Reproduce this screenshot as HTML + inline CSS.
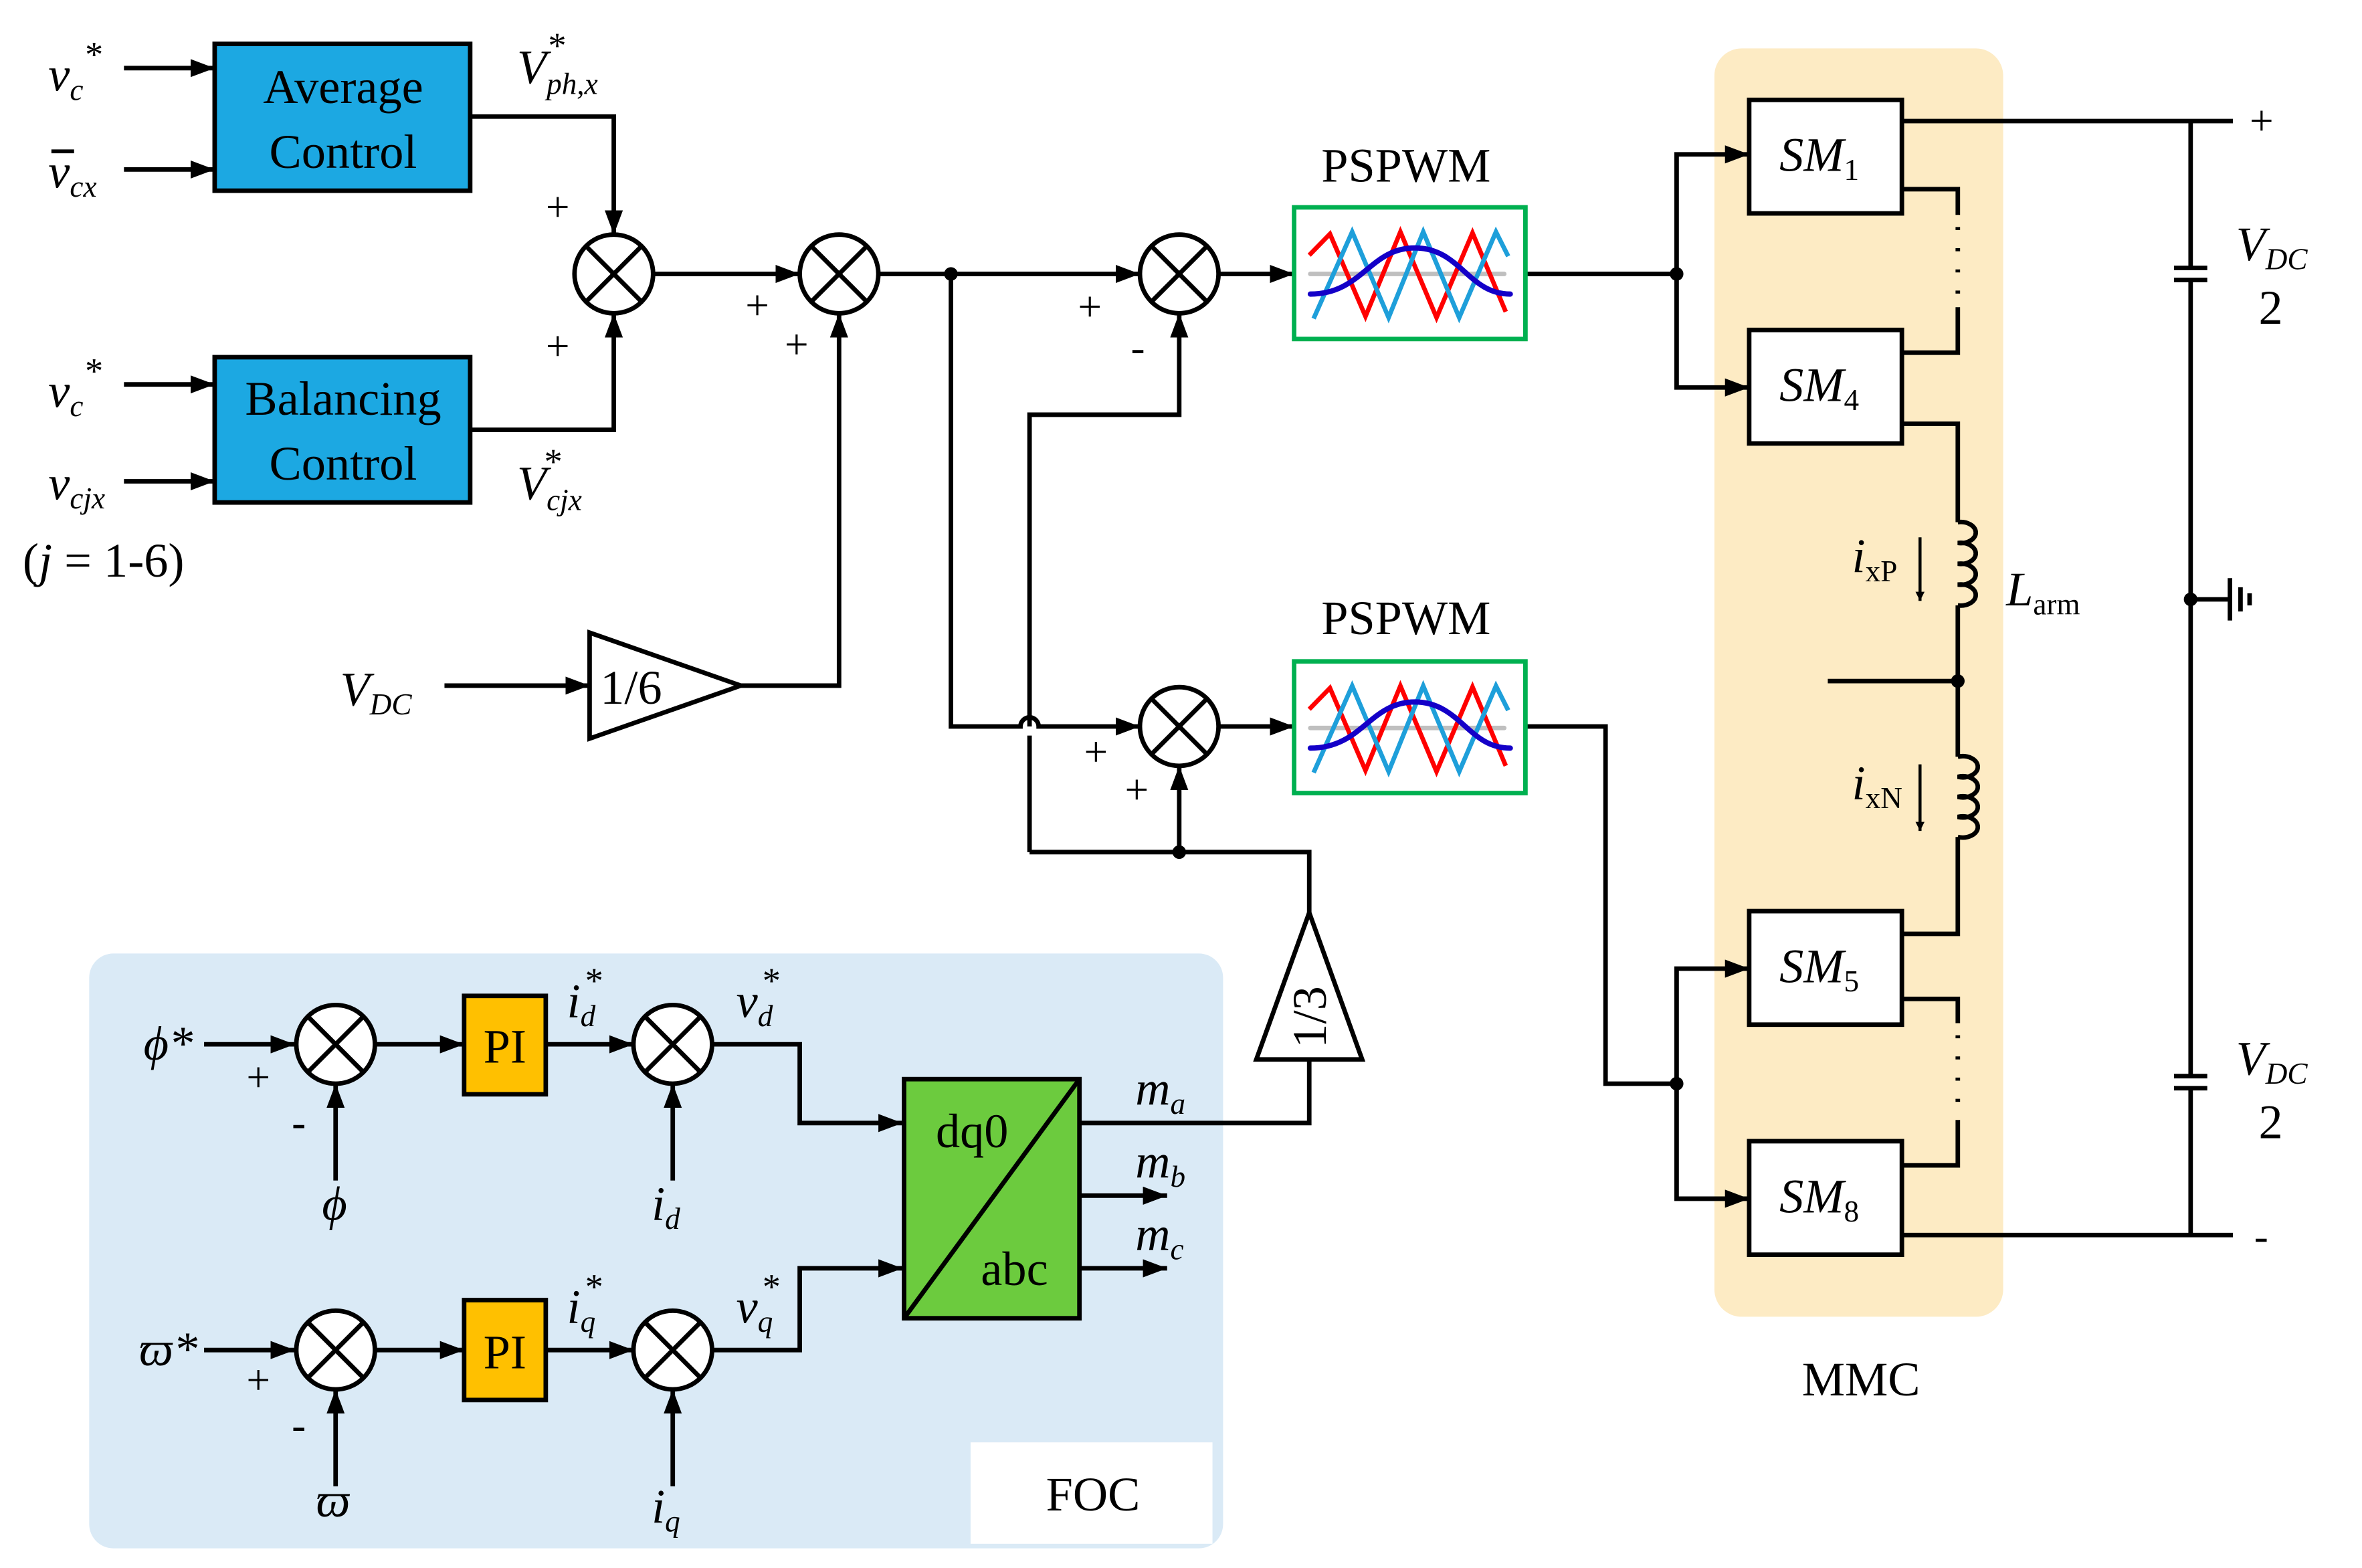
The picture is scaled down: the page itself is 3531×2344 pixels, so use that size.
<!DOCTYPE html>
<html><head><meta charset="utf-8"><style>
html,body{margin:0;padding:0;background:#fff}
svg{display:block}
text{font-family:"Liberation Serif",serif;fill:#000}
.i{font-style:italic}
</style></head><body>
<svg width="3531" height="2344" viewBox="0 0 1560 1036" preserveAspectRatio="none" xmlns="http://www.w3.org/2000/svg">
<defs>
<marker id="a" viewBox="0 0 10 10" refX="10" refY="5" markerWidth="6" markerHeight="6" markerUnits="userSpaceOnUse" orient="auto"><path d="M0,0 L10,5 L0,10 z" fill="#000"/></marker>
<marker id="A" viewBox="0 0 10 10" refX="10" refY="5" markerWidth="16" markerHeight="12" markerUnits="userSpaceOnUse" orient="auto" preserveAspectRatio="none"><path d="M0,0 L10,5 L0,10 z" fill="#000"/></marker>
<g id="pw">
<rect x="0" y="0" width="153" height="87" fill="#fff" stroke="#00B050" stroke-width="3"/>
<line x1="10.7" y1="44" x2="139" y2="44" stroke="#bfbfbf" stroke-width="3" stroke-linecap="round"/>
<polyline points="10,31.6 23.7,17.6 47.2,72 70.3,16.2 94.2,72.8 118,16.9 140,69" fill="none" stroke="#ff0000" stroke-width="3"/>
<polyline points="12.9,73.5 38.4,16.2 62.5,72.8 85.4,16.2 109.2,72.8 133.5,16.2 141.6,32.3" fill="none" stroke="#1e9fda" stroke-width="3"/>
<path d="M10.7,57.3 C45,57.3 50,26.8 79.8,26.8 C110,26.8 115,57.3 143,57.3" fill="none" stroke="#1400c8" stroke-width="3.5" stroke-linecap="round"/>
</g>
<g id="cx"><circle r="26" fill="#fff" stroke="#000" stroke-width="3"/><line x1="-18.4" y1="-18.4" x2="18.4" y2="18.4" stroke="#000" stroke-width="3"/><line x1="-18.4" y1="18.4" x2="18.4" y2="-18.4" stroke="#000" stroke-width="3"/></g>
</defs>
<g transform="translate(-3,0) scale(0.9985,1)">
<g stroke="#000" stroke-width="3" fill="none">
<rect x="1137" y="32" width="191" height="838" rx="18" fill="#FDEBC4" stroke="none"/>
<rect x="62" y="630" width="750" height="393" rx="16" fill="#DAEAF6" stroke="none"/>
<rect x="645" y="953" width="160" height="67" fill="#fff" stroke="none"/>
</g>
<g stroke="#000" stroke-width="3" fill="none" marker-end="url(#A)">
<line x1="85" y1="45" x2="145" y2="45"/>
<line x1="85" y1="112" x2="145" y2="112"/>
<line x1="85" y1="254" x2="145" y2="254"/>
<line x1="85" y1="318" x2="145" y2="318"/>
<polyline points="314,77 409,77 409,155"/>
<polyline points="314,284 409,284 409,207"/>
<line x1="435" y1="181" x2="532" y2="181"/>
<polyline points="493,453 558,453 558,207"/>
<line x1="297" y1="453" x2="393" y2="453"/>
<line x1="584" y1="181" x2="757" y2="181"/>
<polyline points="684,480 684,274 783,274 783,207"/>
<line x1="783" y1="563" x2="783" y2="506"/>
<path d="M632,181 L632,480 L678,480 A6,6 0 0 1 690,480 L757,480"/>
<line x1="809" y1="181" x2="859" y2="181"/>
<line x1="809" y1="480" x2="859" y2="480"/>
<polyline points="1112,181 1112,102 1160,102"/>
<polyline points="1112,181 1112,256 1160,256"/>
<polyline points="1112,716 1112,640 1160,640"/>
<polyline points="1112,716 1112,792 1160,792"/>
<line x1="138" y1="690" x2="198" y2="690"/>
<line x1="138" y1="892" x2="198" y2="892"/>
<line x1="225" y1="780" x2="225" y2="716"/>
<line x1="225" y1="982" x2="225" y2="918"/>
<line x1="251" y1="690" x2="310" y2="690"/>
<line x1="251" y1="892" x2="310" y2="892"/>
<line x1="364" y1="690" x2="422" y2="690"/>
<line x1="364" y1="892" x2="422" y2="892"/>
<line x1="448" y1="780" x2="448" y2="716"/>
<line x1="448" y1="982" x2="448" y2="918"/>
<polyline points="474,690 532,690 532,742 600,742"/>
<polyline points="474,892 532,892 532,838 600,838"/>
<line x1="717" y1="790" x2="775" y2="790"/>
<line x1="717" y1="838" x2="775" y2="838"/>
</g>
<g stroke="#000" stroke-width="3" fill="none">
<line x1="684" y1="486" x2="684" y2="563"/>
<polyline points="684,563 869,563 869,603"/>
<polyline points="717,742 869,742 869,700"/>
<line x1="1012" y1="181" x2="1112" y2="181"/>
<polyline points="1012,480 1065,480 1065,716 1112,716"/>
<line x1="1261" y1="80" x2="1480" y2="80"/>
<line x1="1261" y1="816" x2="1480" y2="816"/>
<polyline points="1261,125 1298,125 1298,142"/>
<polyline points="1298,203 1298,233 1261,233"/>
<line x1="1298" y1="150" x2="1298" y2="200" stroke-dasharray="2,12"/>
<polyline points="1261,280 1298,280 1298,345"/>
<path d="M1298,345 a10,7 0 1 1 0,13.75 a10,7 0 1 1 0,13.75 a10,7 0 1 1 0,13.75 a10,7 0 1 1 0,13.75"/>
<line x1="1298" y1="400" x2="1298" y2="500"/>
<path d="M1298,500 a10,7 0 1 1 0,13.25 a10,7 0 1 1 0,13.25 a10,7 0 1 1 0,13.25 a10,7 0 1 1 0,13.25"/>
<polyline points="1298,553 1298,617 1261,617"/>
<line x1="1212" y1="450" x2="1298" y2="450"/>
<polyline points="1261,660 1298,660 1298,676"/>
<polyline points="1298,740 1298,770 1261,770"/>
<line x1="1298" y1="684" x2="1298" y2="738" stroke-dasharray="2,12"/>
<line x1="1452" y1="80" x2="1452" y2="177"/>
<line x1="1452" y1="185" x2="1452" y2="711"/>
<line x1="1452" y1="719" x2="1452" y2="816"/>
<line x1="1441" y1="177" x2="1463" y2="177"/>
<line x1="1441" y1="185" x2="1463" y2="185"/>
<line x1="1441" y1="711" x2="1463" y2="711"/>
<line x1="1441" y1="719" x2="1463" y2="719"/>
<line x1="1452" y1="396" x2="1478" y2="396"/>
<line x1="1478" y1="382" x2="1478" y2="410"/>
<line x1="1485" y1="388" x2="1485" y2="404"/>
<line x1="1491" y1="392" x2="1491" y2="400"/>
</g>
<g stroke="#000" stroke-width="2" marker-end="url(#a)">
<line x1="1273" y1="355" x2="1273" y2="397"/>
<line x1="1273" y1="505" x2="1273" y2="549"/>
</g>
<g fill="#000">
<circle cx="632" cy="181" r="4.5"/><circle cx="783" cy="563" r="4.5"/>
<circle cx="1112" cy="181" r="4.5"/><circle cx="1112" cy="716" r="4.5"/>
<circle cx="1298" cy="450" r="4.5"/><circle cx="1452" cy="396" r="4.5"/>
</g>
<rect x="145" y="29" width="169" height="97" fill="#1CA8E2" stroke="#000" stroke-width="3"/>
<rect x="145" y="236" width="169" height="96" fill="#1CA8E2" stroke="#000" stroke-width="3"/>
<polygon points="393,418 393,488 493,453" fill="#fff" stroke="#000" stroke-width="3"/>
<polygon points="869,603 834,700 904,700" fill="#fff" stroke="#000" stroke-width="3"/>
<use href="#cx" x="409" y="181"/><use href="#cx" x="558" y="181"/>
<use href="#cx" x="783" y="181"/><use href="#cx" x="783" y="480"/>
<use href="#cx" x="225" y="690"/><use href="#cx" x="448" y="690"/>
<use href="#cx" x="225" y="892"/><use href="#cx" x="448" y="892"/>
<use href="#pw" x="859" y="137"/><use href="#pw" x="859" y="437"/>
<g fill="#fff" stroke="#000" stroke-width="3">
<rect x="1160" y="66" width="101" height="75"/>
<rect x="1160" y="218" width="101" height="75"/>
<rect x="1160" y="602" width="101" height="75"/>
<rect x="1160" y="754" width="101" height="75"/>
</g>
<rect x="310" y="658" width="54" height="65" fill="#FFC000" stroke="#000" stroke-width="3"/>
<rect x="310" y="859" width="54" height="66" fill="#FFC000" stroke="#000" stroke-width="3"/>
<rect x="601" y="713" width="116" height="158" fill="#6CCB3E" stroke="#000" stroke-width="3"/>
<line x1="601" y1="871" x2="717" y2="713" stroke="#000" stroke-width="3"/>
<g font-size="32">
<text x="230" y="68" text-anchor="middle">Average</text>
<text x="230" y="111" text-anchor="middle">Control</text>
<text x="230" y="274" text-anchor="middle">Balancing</text>
<text x="230" y="317" text-anchor="middle">Control</text>
<text x="400" y="465">1/6</text>
<text x="933" y="120" text-anchor="middle">PSPWM</text>
<text x="933" y="419" text-anchor="middle">PSPWM</text>
<text x="337" y="702" text-anchor="middle">PI</text>
<text x="337" y="904" text-anchor="middle">PI</text>
<text x="646" y="758" text-anchor="middle">dq0</text>
<text x="674" y="849" text-anchor="middle">abc</text>
<text x="726" y="998" text-anchor="middle">FOC</text>
<text x="1234" y="922" text-anchor="middle">MMC</text>
<text x="0" y="0" text-anchor="middle" transform="translate(880,672) rotate(-90)">1/3</text>
<text x="18" y="381">(<tspan class="i">j</tspan> = 1-6)</text>
</g>
<g font-size="28">
<text x="364" y="146">+</text><text x="364" y="238">+</text>
<text x="496" y="211">+</text><text x="522" y="237">+</text>
<text x="716" y="212">+</text><text x="751" y="239">-</text>
<text x="720" y="506">+</text><text x="747" y="531">+</text>
<text x="166" y="721">+</text><text x="196" y="751">-</text>
<text x="166" y="921">+</text><text x="196" y="951">-</text>
<text x="1491" y="89">+</text><text x="1494" y="826">-</text>
</g>
<g font-size="32" class="i">
<text x="35" y="60" class="i">v<tspan font-size="20" dy="6">c</tspan><tspan font-size="24" dy="-22">*</tspan></text>
<text x="35" y="124" class="i">v<tspan font-size="20" dy="6">cx</tspan></text>
<text x="35" y="269" class="i">v<tspan font-size="20" dy="6">c</tspan><tspan font-size="24" dy="-22">*</tspan></text>
<text x="35" y="330" class="i">v<tspan font-size="20" dy="6">cjx</tspan></text>
<text x="345" y="55" class="i">V<tspan font-size="20" dy="7">ph,x</tspan><tspan font-size="24" dx="-34" dy="-24">*</tspan></text>
<text x="345" y="330" class="i">V<tspan font-size="20" dy="7">cjx</tspan><tspan font-size="24" dx="-26" dy="-24">*</tspan></text>
<text x="228" y="466" class="i">V<tspan font-size="20" dy="6">DC</tspan></text>
<text x="1180" y="113" class="i">SM<tspan font-size="20" font-style="normal" dy="6">1</tspan></text>
<text x="1180" y="265" class="i">SM<tspan font-size="20" font-style="normal" dy="6">4</tspan></text>
<text x="1180" y="649" class="i">SM<tspan font-size="20" font-style="normal" dy="6">5</tspan></text>
<text x="1180" y="801" class="i">SM<tspan font-size="20" font-style="normal" dy="6">8</tspan></text>
<text x="1228" y="378" class="i">i<tspan font-size="20" font-style="normal" dy="6">xP</tspan></text>
<text x="1228" y="528" class="i">i<tspan font-size="20" font-style="normal" dy="6">xN</tspan></text>
<text x="1330" y="400" class="i">L<tspan font-size="20" font-style="normal" dy="6">arm</tspan></text>
<text x="1482" y="172" class="i">V<tspan font-size="20" dy="6">DC</tspan></text>
<text x="1497" y="214" font-style="normal">2</text>
<text x="1482" y="710" class="i">V<tspan font-size="20" dy="6">DC</tspan></text>
<text x="1497" y="752" font-style="normal">2</text>
<text x="98" y="700" class="i">ϕ*</text>
<text x="95" y="902" class="i">ϖ*</text>
<text x="216" y="806" class="i">ϕ</text>
<text x="212" y="1002" class="i">ϖ</text>
<text x="378" y="672" class="i">i<tspan font-size="20" dy="6">d</tspan><tspan font-size="24" dx="-8" dy="-22">*</tspan></text>
<text x="378" y="874" class="i">i<tspan font-size="20" dy="6">q</tspan><tspan font-size="24" dx="-8" dy="-22">*</tspan></text>
<text x="490" y="672" class="i">v<tspan font-size="20" dy="6">d</tspan><tspan font-size="24" dx="-8" dy="-22">*</tspan></text>
<text x="490" y="874" class="i">v<tspan font-size="20" dy="6">q</tspan><tspan font-size="24" dx="-8" dy="-22">*</tspan></text>
<text x="434" y="806" class="i">i<tspan font-size="20" dy="6">d</tspan></text>
<text x="434" y="1006" class="i">i<tspan font-size="20" dy="6">q</tspan></text>
<text x="754" y="730" class="i">m<tspan font-size="20" dy="6">a</tspan></text>
<text x="754" y="778" class="i">m<tspan font-size="20" dy="6">b</tspan></text>
<text x="754" y="826" class="i">m<tspan font-size="20" dy="6">c</tspan></text>
</g>
<line x1="37" y1="100" x2="52" y2="100" stroke="#000" stroke-width="2.5"/>
</g>
</svg>
</body></html>
